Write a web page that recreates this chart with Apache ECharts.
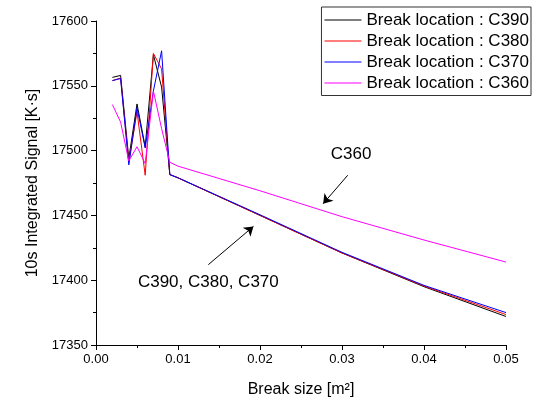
<!DOCTYPE html>
<html>
<head>
<meta charset="utf-8">
<script src="https://cdn.jsdelivr.net/npm/echarts@6/dist/echarts.min.js"></script>
<style>
  html, body { margin: 0; padding: 0; background: #fff; }
  #chart { width: 533px; height: 403px; }
</style>
</head>
<body>
<div id="chart"></div>
<script>
// break sizes [m2]
const breakSize = [0.002, 0.003, 0.004, 0.005, 0.006, 0.007, 0.008, 0.009, 0.01, 0.02, 0.03, 0.04, 0.05];

// 10s integrated signal per break location
const c390 = [17556.5, 17558, 17494, 17536, 17503, 17574, 17549, 17481.5, 17479, 17450, 17421, 17395, 17372];
const c380 = [17554, 17556, 17491, 17530, 17481, 17575, 17563, 17481.5, 17479, 17450, 17421, 17395.5, 17373.5];
const c370 = [17554, 17555.6, 17489, 17533, 17502, 17546, 17577, 17481.5, 17479, 17450.5, 17421.5, 17396, 17375];
const c360 = [17535.5, 17522, 17492, 17503, 17490, 17546, 17517, 17491, 17488, 17469, 17449, 17431, 17414];

const seriesNames = ['Break location : C390', 'Break location : C380', 'Break location : C370', 'Break location : C360'];
const seriesColors = ['#000000', '#ff0000', '#0000ff', '#ff00ff'];

// annotation arrows (from -> to) and labels, in data units
const arrowC360 = [[0.0307, 17481], [0.0277, 17459]];
const arrowOthers = [[0.0137, 17412], [0.0192, 17441.5]];
const noteLabels = [
  { text: 'C360', at: [0.0311, 17497] },
  { text: 'C390, C380, C370', at: [0.0137, 17398] }
];

const FONT = 'Liberation Sans, Arial, sans-serif';

const pairs = (ys) => breakSize.map((x, i) => [x, ys[i]]);

const chart = echarts.init(document.getElementById('chart'), null, { renderer: 'canvas' });

const allSeries = [c390, c380, c370, c360].map((ys, i) => ({
  name: seriesNames[i],
  type: 'line',
  data: pairs(ys),
  symbol: 'none',
  lineStyle: { color: seriesColors[i], width: 1 },
  itemStyle: { color: seriesColors[i] },
  animation: false
}));

// arrows + texts hung on the last series
allSeries[3].markLine = {
  silent: true,
  symbol: ['none', 'arrow'],
  symbolSize: 9,
  label: { show: false },
  lineStyle: { color: '#000', width: 1, type: 'solid' },
  data: [
    [{ coord: arrowC360[0] }, { coord: arrowC360[1] }],
    [{ coord: arrowOthers[0] }, { coord: arrowOthers[1] }]
  ]
};
allSeries[3].markPoint = {
  silent: true,
  symbol: 'circle',
  symbolSize: 0,
  data: noteLabels.map(n => ({
    coord: n.at,
    label: {
      show: true,
      position: 'inside',
      formatter: n.text,
      color: '#000',
      fontFamily: FONT,
      fontSize: 17
    }
  }))
};

chart.setOption({
  backgroundColor: '#fff',
  animation: false,
  grid: { left: 96, right: 27, top: 21, bottom: 57 },
  legend: {
    orient: 'vertical',
    right: 2,
    top: 7,
    padding: [4.5, 2, 4, 3],
    icon: 'rect',
    itemWidth: 37,
    itemHeight: 1,
    itemGap: 4,
    borderColor: '#333',
    borderWidth: 1,
    textStyle: { fontFamily: FONT, fontSize: 17, color: '#000' },
    data: seriesNames
  },
  xAxis: {
    type: 'value',
    min: 0,
    max: 0.05,
    interval: 0.01,
    name: 'Break size [m²]',
    nameLocation: 'middle',
    nameGap: 37,
    nameTextStyle: { fontFamily: FONT, fontSize: 16, color: '#000' },
    axisLine: { show: true, lineStyle: { color: '#000', width: 1 } },
    axisTick: { show: true, inside: false, length: 5, lineStyle: { color: '#000' } },
    minorTick: { show: true, splitNumber: 2, length: 3, lineStyle: { color: '#000' } },
    splitLine: { show: false },
    axisLabel: {
      fontFamily: FONT, fontSize: 13, color: '#000', margin: 8,
      formatter: v => v.toFixed(2)
    }
  },
  yAxis: {
    type: 'value',
    min: 17350,
    max: 17600,
    interval: 50,
    name: '10s Integrated Signal [K·s]',
    nameLocation: 'middle',
    nameGap: 55,
    nameTextStyle: { fontFamily: FONT, fontSize: 16, color: '#000' },
    axisLine: { show: true, lineStyle: { color: '#000', width: 1 } },
    axisTick: { show: true, inside: false, length: 5, lineStyle: { color: '#000' } },
    minorTick: { show: true, splitNumber: 2, length: 3, lineStyle: { color: '#000' } },
    splitLine: { show: false },
    axisLabel: {
      fontFamily: FONT, fontSize: 13, color: '#000', margin: 8,
      formatter: v => String(v)
    }
  },
  series: allSeries
});
</script>
</body>
</html>
